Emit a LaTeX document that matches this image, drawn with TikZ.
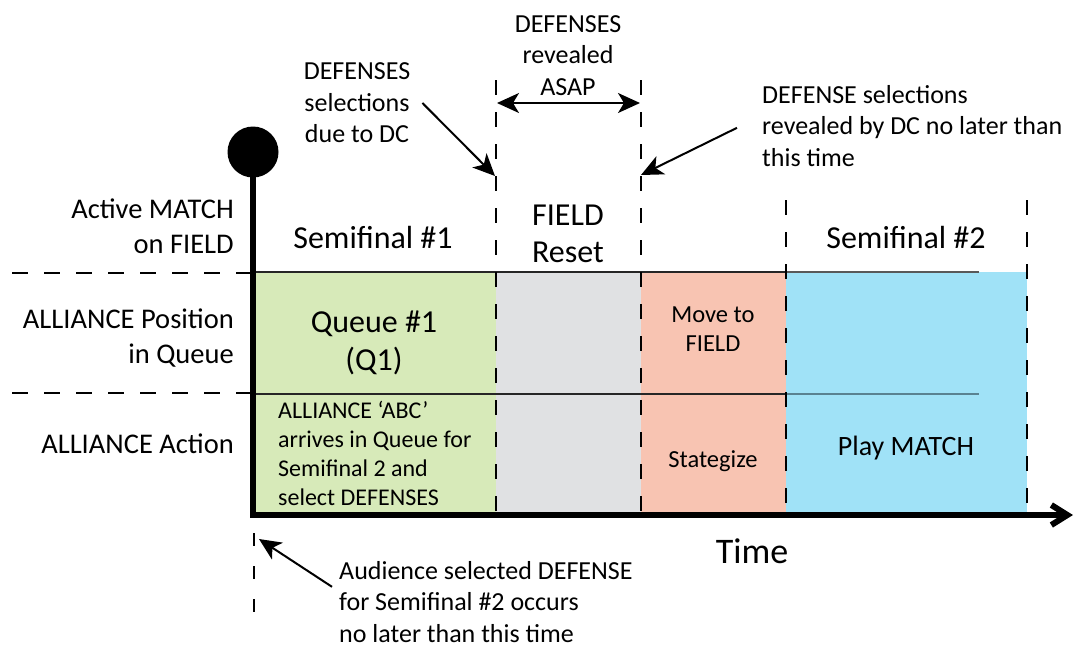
\documentclass[tikz,border=0pt]{standalone}
\usepackage{fontspec}
\setmainfont{Carlito}
\usepackage{xcolor}
\usepackage{tikz}
\usetikzlibrary{calc,positioning,arrows.meta}
\definecolor{queuegreen}{HTML}{D7EAB9}
\definecolor{resetgray}{HTML}{E0E1E3}
\definecolor{moveorange}{HTML}{F8C4B2}
\definecolor{playblue}{HTML}{A0E2F7}
\definecolor{lineonblue}{HTML}{5A8291}

\begin{document}
\begin{tikzpicture}[x=1pt, y=-1pt,
    lbl/.style={anchor=east, inner sep=0pt, align=right, font=\fontsize{28.5}{35}\selectfont},
    big/.style={inner sep=0pt, align=center, font=\fontsize{32}{37.5}\selectfont},
    note/.style={inner sep=0pt, font=\fontsize{26}{31.5}\selectfont},
    small/.style={inner sep=0pt, align=center, font=\fontsize{24.5}{29}\selectfont},
    dline/.style={dash pattern=on 15pt off 17pt, line width=2.2pt},
    rowline/.style={line width=2pt, black!85},
    >={Stealth[length=22pt, width=20pt, inset=6pt]},
    arr/.style={->, line width=2pt}
]
\useasboundingbox (0,0) rectangle (1077,649);

% lanes
\fill[queuegreen] (253,272) rectangle (496,514);
\fill[resetgray] (496,272) rectangle (641,514);
\fill[moveorange] (641,272) rectangle (786,514);
\fill[playblue] (786,272) rectangle (1027,513);

% row lines
\draw[rowline] (253,272) -- (786,272);
\draw[rowline] (253,394) -- (786,394);
\draw[line width=2pt, black!65] (786,272) -- (979,272);
\draw[line width=2pt, lineonblue] (786,394) -- (979,394);
\draw[dline, dash pattern=on 15.5pt off 16.5pt] (12,273) -- (253,273);
\draw[dline, dash pattern=on 15.5pt off 16.5pt] (12,393) -- (253,393);

% time marks
\coordinate (asapL) at (497,103);
\coordinate (asapR) at (640,103);
\draw[dline] (496,80) -- (496,514);
\draw[dline] (641,80) -- (641,514);
\draw[dline] (786,200) -- (786,514);
\draw[dline] (1027,200) -- (1027,514);
\draw[dline, dash pattern=on 13pt off 20pt] (254,533) -- (254,612);

% axes
\draw[line width=6.5pt] (253,152) -- (253,517.5);
\fill (253,152) circle (25.5);
\draw[line width=6pt, -{Straight Barb[length=16pt, width=20pt]}] (250,515) -- (1073,515);

% labels
\node[lbl] (active) at (234,226.5) {Active MATCH\\on FIELD};
\node[lbl] (pos) at (234,338) {ALLIANCE Position\\in Queue};
\node[lbl, anchor=base east] (act) at (234,453) {ALLIANCE Action};

\node[big, anchor=base] (semi1) at (373,248) {Semifinal \#1};
\node[big] (reset) at (568,234) {FIELD\\Reset};
\node[big, anchor=base] (semi2) at (906,248) {Semifinal \#2};
\node[big] (queue) at (374,343) {Queue \#1\\(Q1)};
\node[small] (move) at (713,328.8) {Move to\\FIELD};
\node[small, anchor=base] (strat) at (713,467) {Stategize};
\node[anchor=base, inner sep=0pt, font=\fontsize{28}{34}\selectfont] (play) at (906,455) {Play MATCH};
\node[inner sep=0pt, align=left, anchor=west, font=\fontsize{24}{29}\selectfont] (abc) at (278,453.9)
    {ALLIANCE ‘ABC’\\arrives in Queue for\\Semifinal 2 and\\select DEFENSES};
\node[anchor=base, inner sep=0pt, font=\fontsize{36}{43}\selectfont] (time) at (752,563) {Time};

% notes
\node[note, align=center] (asap) at (568,55.3) {DEFENSES\\revealed\\ASAP};
\node[note, align=center] (due) at (357,103) {DEFENSES\\selections\\due to DC};
\node[note, align=left, anchor=west] (bydc) at (762,125.8)
    {DEFENSE selections\\revealed by DC no later than\\this time};
\node[note, align=left, anchor=west] (aud) at (339,601.8)
    {Audience selected DEFENSE\\for Semifinal \#2 occurs\\no later than this time};

\coordinate (dueTip) at (495,176);
\coordinate (bydcTip) at (641,175);
\coordinate (audTip) at (259,539);
\draw[arr, <->] (asapL) -- (asapR);
\draw[arr] ($(due.east)+(12,0)$) -- (dueTip);
\draw[arr] ($(bydc.west)+(-25,2)$) -- (bydcTip);
\draw[arr] ($(aud.west)+(-7,-15)$) -- (audTip);
\end{tikzpicture}
\end{document}
